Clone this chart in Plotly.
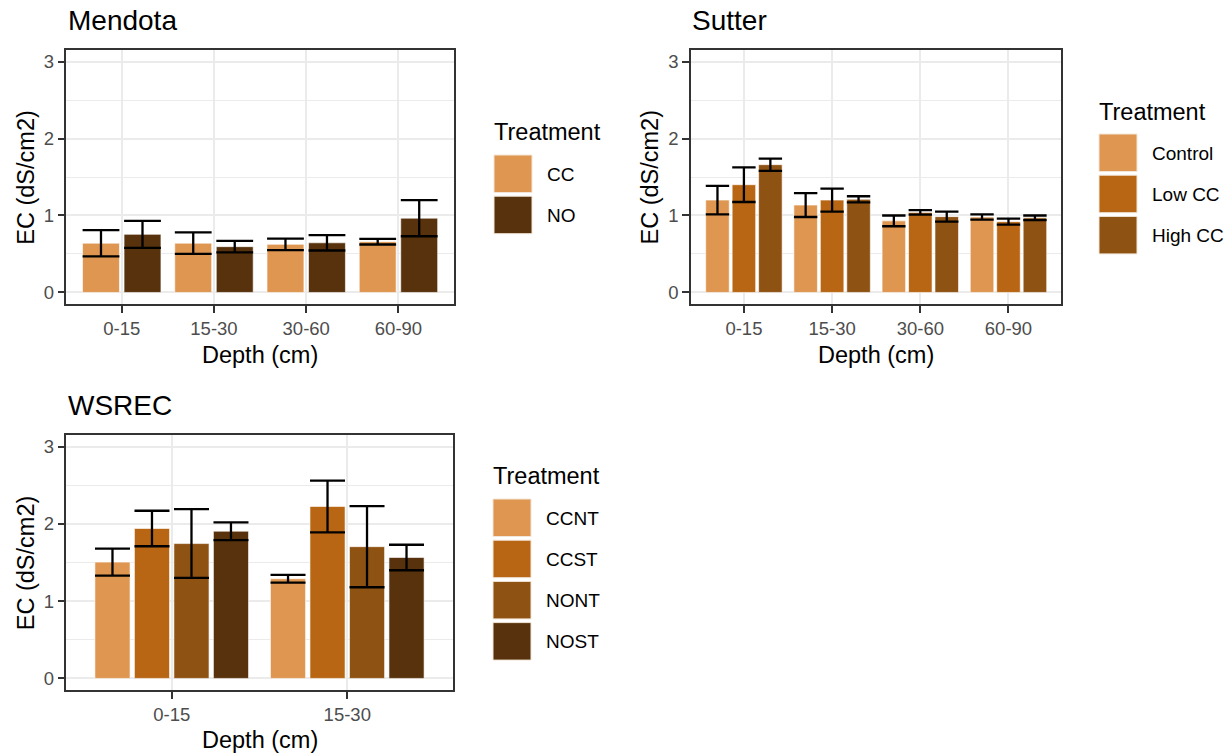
import plotly.graph_objects as go

W, H = 1227, 755

# ---------------- data ----------------
depth4 = ["0-15", "15-30", "30-60", "60-90"]
depth2 = ["0-15", "15-30"]

mendota_trt = ["CC", "NO"]
mendota_cc = [0.64, 0.64, 0.625, 0.66]
mendota_cc_se = [0.17, 0.14, 0.075, 0.037]
mendota_no = [0.755, 0.595, 0.645, 0.965]
mendota_no_se = [0.175, 0.075, 0.10, 0.235]

sutter_trt = ["Control", "Low CC", "High CC"]
sutter_control = [1.20, 1.135, 0.93, 0.98]
sutter_control_se = [0.185, 0.155, 0.07, 0.035]
sutter_low = [1.40, 1.20, 1.04, 0.92]
sutter_low_se = [0.225, 0.15, 0.03, 0.04]
sutter_high = [1.66, 1.21, 0.985, 0.97]
sutter_high_se = [0.08, 0.04, 0.065, 0.03]

wsrec_trt = ["CCNT", "CCST", "NONT", "NOST"]
wsrec_ccnt = [1.505, 1.29]
wsrec_ccnt_se = [0.175, 0.05]
wsrec_ccst = [1.94, 2.225]
wsrec_ccst_se = [0.23, 0.335]
wsrec_nont = [1.745, 1.705]
wsrec_nont_se = [0.445, 0.525]
wsrec_nost = [1.905, 1.565]
wsrec_nost_se = [0.115, 0.165]

# ---------------- styles ----------------
C1, C2, C3, C4 = "#DE9650", "#B86614", "#8E5213", "#57320C"
FONT = "Liberation Sans, Arial, sans-serif"


def px(x):
    return x / W


def py(y):
    return 1 - y / H


fig = go.Figure()

panels = [
    dict(ax="1", xs=depth4, trt=mendota_trt, cols=[C1, C4],
         vals=[mendota_cc, mendota_no], ses=[mendota_cc_se, mendota_no_se],
         cap=18.4, xdom=(66.4, 453.8), ydom=(50, 304)),
    dict(ax="2", xs=depth4, trt=sutter_trt, cols=[C1, C2, C3],
         vals=[sutter_control, sutter_low, sutter_high],
         ses=[sutter_control_se, sutter_low_se, sutter_high_se],
         cap=11.7, xdom=(691, 1061.4), ydom=(50, 304)),
    dict(ax="3", xs=depth2, trt=wsrec_trt, cols=[C1, C2, C3, C4],
         vals=[wsrec_ccnt, wsrec_ccst, wsrec_nont, wsrec_nost],
         ses=[wsrec_ccnt_se, wsrec_ccst_se, wsrec_nont_se, wsrec_nost_se],
         cap=17.5, xdom=(66.4, 452.6), ydom=(435, 690)),
]

layout_axes = {}
for p in panels:
    a = p["ax"]
    xref = "x" if a == "1" else "x" + a
    yref = "y" if a == "1" else "y" + a
    for name, v, s, c in zip(p["trt"], p["vals"], p["ses"], p["cols"]):
        fig.add_trace(go.Bar(
            x=p["xs"], y=v, name=name, showlegend=False,
            marker=dict(color=c, line=dict(color="white", width=0.6)),
            error_y=dict(type="data", array=s, color="black",
                         thickness=2.3, width=p["cap"]),
            xaxis=xref, yaxis=yref,
        ))
    common = dict(showline=True, mirror=True, linecolor="#333333", linewidth=1.5,
                  ticks="outside", ticklen=7, tickwidth=1.5, tickcolor="#333333",
                  tickfont=dict(family=FONT, size=18.5, color="#4D4D4D"),
                  zeroline=False, showgrid=True, gridcolor="#EBEBEB", gridwidth=2,
                  fixedrange=True, automargin=False)
    xk = "xaxis" if a == "1" else "xaxis" + a
    yk = "yaxis" if a == "1" else "yaxis" + a
    layout_axes[xk] = dict(common, type="category", categoryorder="array",
                           categoryarray=p["xs"],
                           range=[-0.6, len(p["xs"]) - 0.4],
                           domain=[px(p["xdom"][0]), px(p["xdom"][1])],
                           anchor=yref)
    layout_axes[yk] = dict(common, range=[-0.15, 3.15], tick0=0, dtick=1,
                           minor=dict(dtick=0.5, showgrid=True, gridcolor="#EBEBEB",
                                      gridwidth=1),
                           domain=[py(p["ydom"][1]), py(p["ydom"][0])],
                           anchor=xref)

annotations = []
shapes = []


def text(x, y, s, size, color="black", angle=0, xanchor="left"):
    annotations.append(dict(x=px(x), y=py(y), xref="paper", yref="paper",
                            text=s, showarrow=False, xanchor=xanchor,
                            yanchor="middle", textangle=angle,
                            font=dict(family=FONT, size=size, color=color)))


# panel titles
text(66, 21, "Mendota", 28)
text(690, 21, "Sutter", 28)
text(66, 405, "WSREC", 28)

# axis titles
for p, xt_y, yt_x in [(panels[0], 355, 25.7), (panels[1], 355, 649.5),
                      (panels[2], 740, 25.7)]:
    cx = (p["xdom"][0] + p["xdom"][1]) / 2
    cy = (p["ydom"][0] + p["ydom"][1]) / 2
    text(cx, xt_y, "Depth (cm)", 23.5, xanchor="center")
    text(yt_x, cy, "EC (dS/cm2)", 23.5, angle=-90, xanchor="center")

# legends
legends = [
    (panels[0], 493, 132, 155),
    (panels[1], 1098, 112, 134),
    (panels[2], 492, 476, 499),
]
for p, lx, ty, top in legends:
    text(lx - 1, ty, "Treatment", 23.5)
    for i, (name, c) in enumerate(zip(p["trt"], p["cols"])):
        y0 = top + i * 41.2
        shapes.append(dict(type="rect", xref="paper", yref="paper",
                           x0=px(lx + 1), x1=px(lx + 39), y0=py(y0 + 37.5), y1=py(y0),
                           fillcolor=c, line=dict(color="#F2E6D8", width=1)))
        text(lx + 52, y0 + 19, name, 19)

fig.update_layout(
    width=W, height=H, autosize=False,
    margin=dict(l=0, r=0, t=0, b=0),
    paper_bgcolor="white", plot_bgcolor="white",
    barmode="group", bargap=0.1, bargroupgap=0.111,
    showlegend=False,
    annotations=annotations, shapes=shapes,
    font=dict(family=FONT),
    **layout_axes,
)

fig.write_html("out.html")
